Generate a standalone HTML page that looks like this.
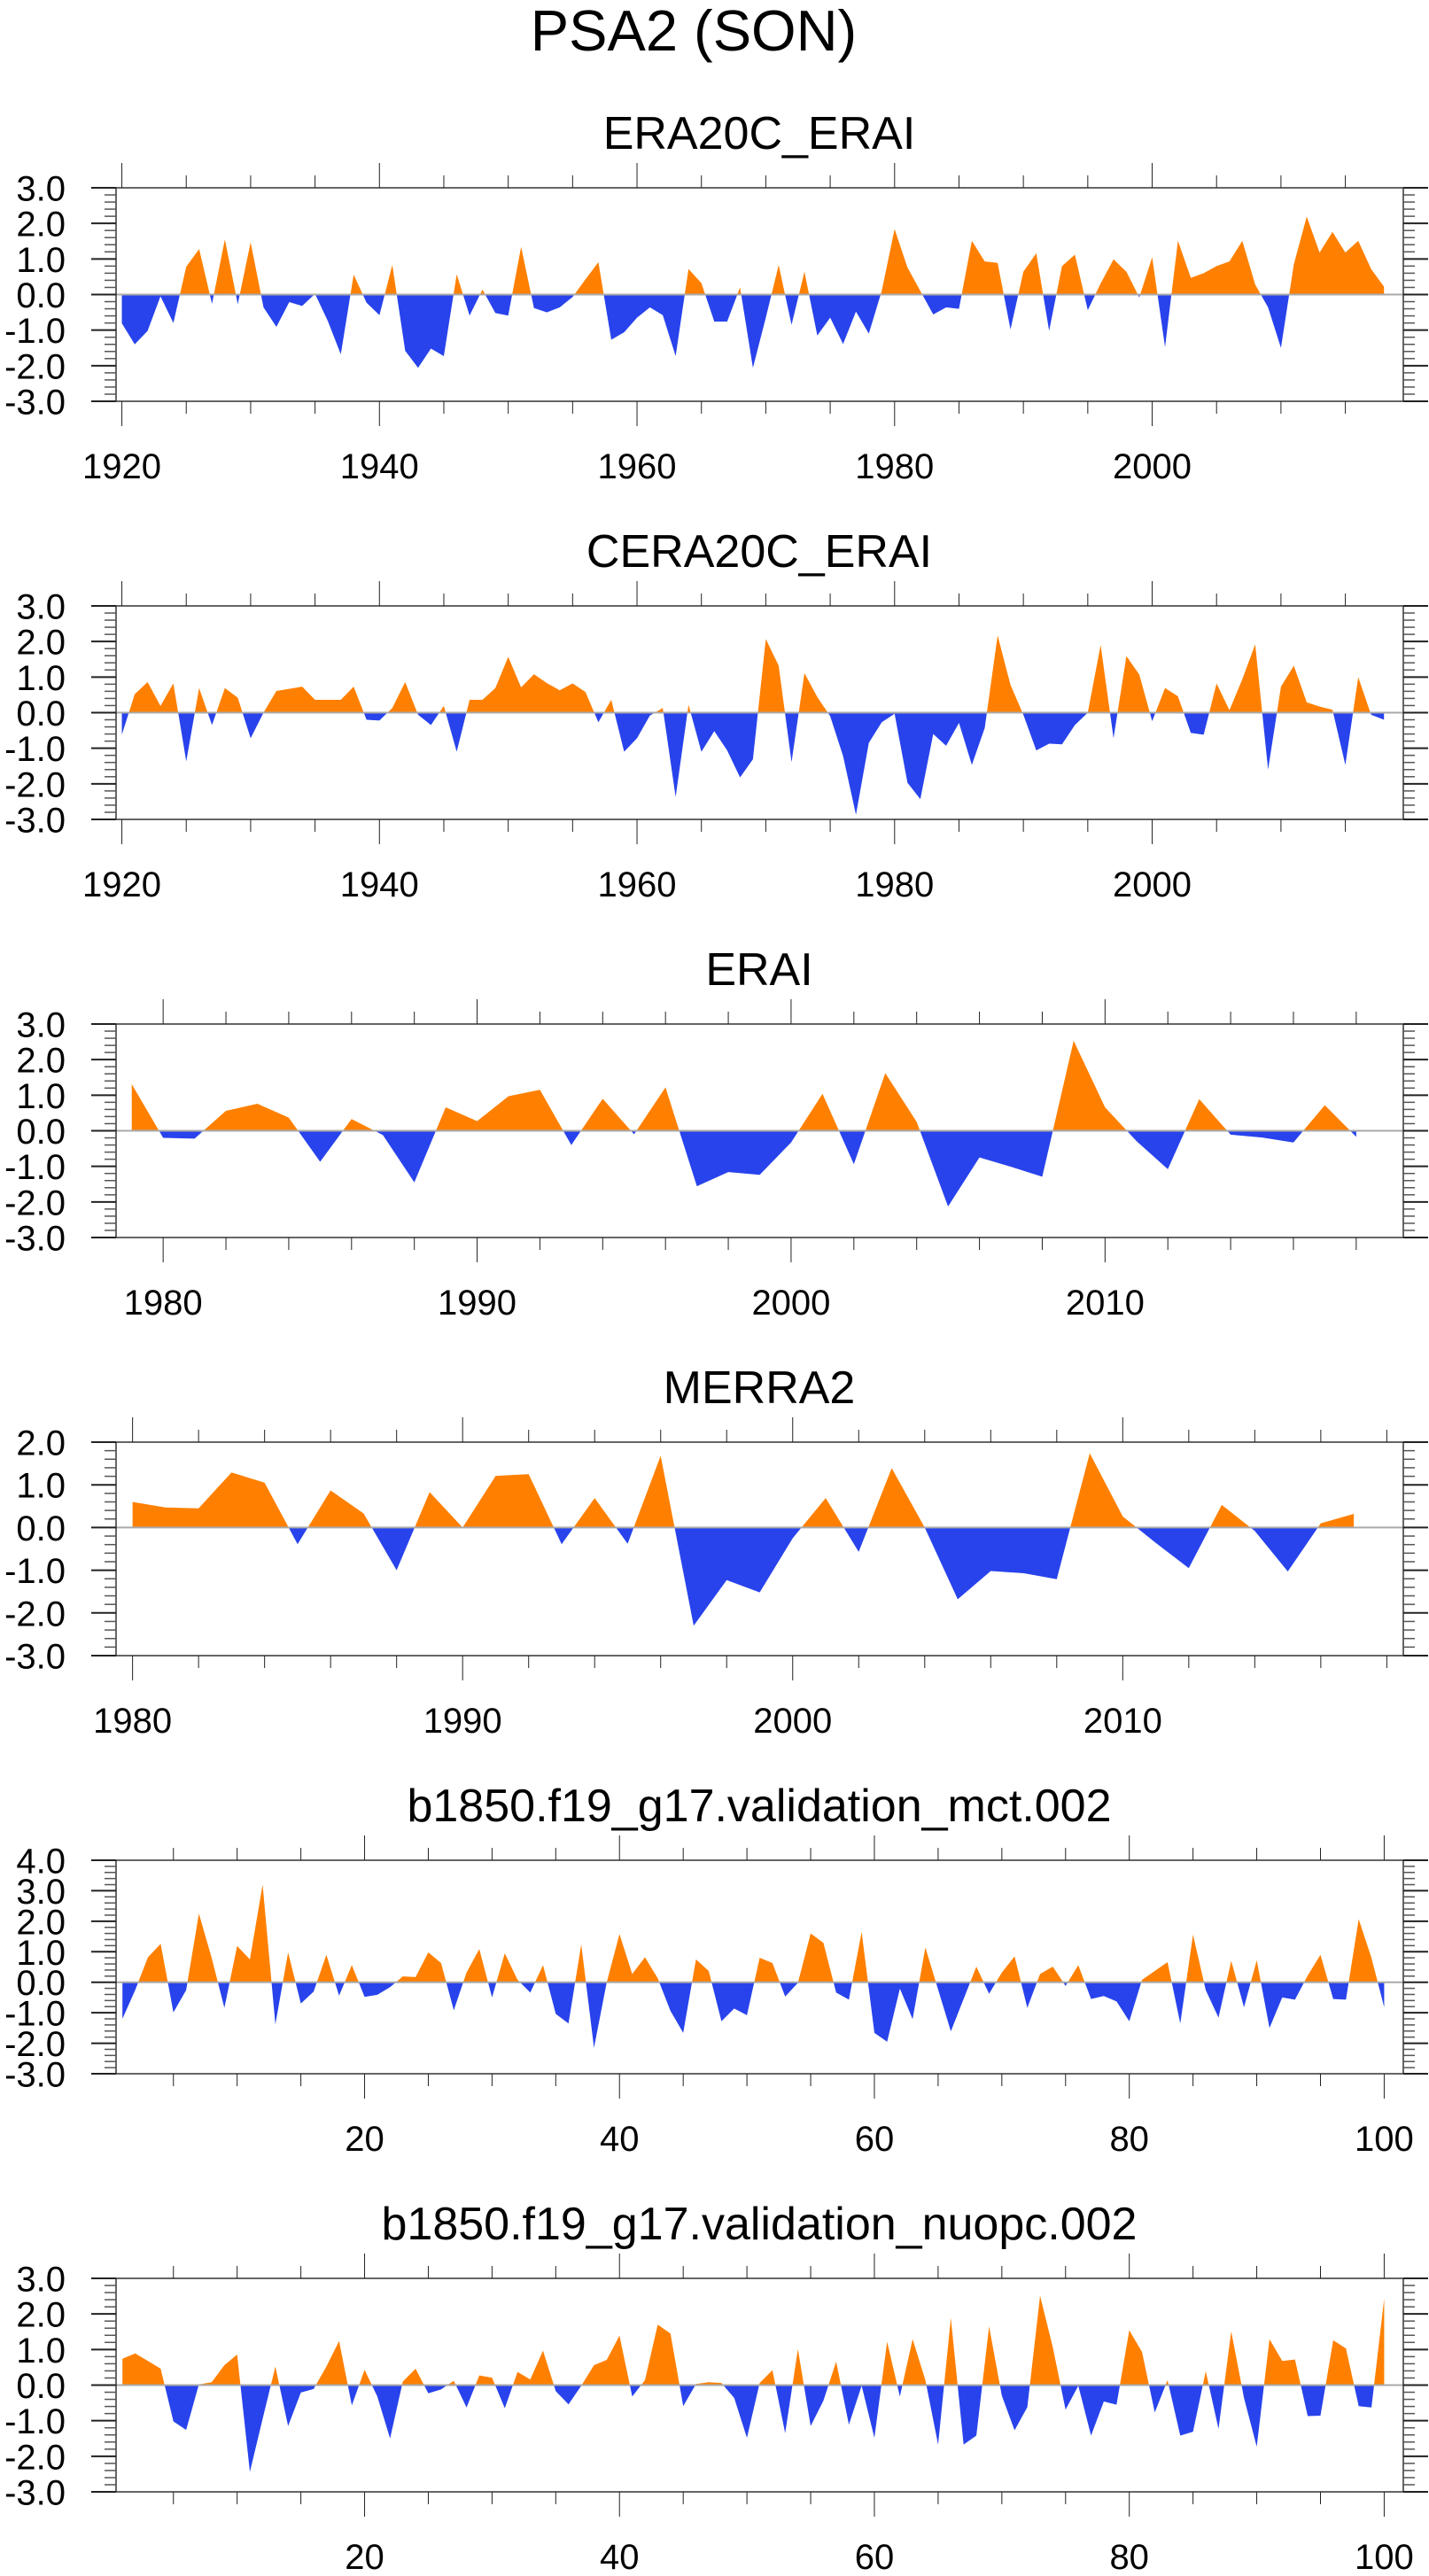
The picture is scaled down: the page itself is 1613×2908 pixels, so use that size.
<!DOCTYPE html>
<html><head><meta charset="utf-8">
<style>
html,body{margin:0;padding:0;background:#fff;}
svg{display:block;font-family:"Liberation Sans",Arial,sans-serif;}
</style></head>
<body>
<svg id="fig" width="1613" height="2908" viewBox="0 0 1613 2908" xmlns="http://www.w3.org/2000/svg">
<text x="783" y="57" font-size="65" text-anchor="middle" fill="#000">PSA2 (SON)</text>
</svg>
<script>
// ---- data ----
const era20cYears = [1920, 2018];
const era20cValues = [-0.81,-1.4,-1.02,-0.05,-0.8,0.78,1.28,-0.26,1.55,-0.27,1.47,-0.36,-0.91,-0.21,-0.32,0.02,-0.75,-1.68,0.56,-0.23,-0.58,0.83,-1.58,-2.06,-1.52,-1.73,0.57,-0.59,0.14,-0.52,-0.59,1.34,-0.38,-0.5,-0.36,-0.07,0.43,0.91,-1.27,-1.06,-0.65,-0.36,-0.58,-1.73,0.72,0.32,-0.76,-0.76,0.2,-2.06,-0.65,0.83,-0.85,0.64,-1.15,-0.65,-1.39,-0.48,-1.1,0.1,1.84,0.76,0.1,-0.56,-0.36,-0.4,1.51,0.93,0.89,-0.98,0.64,1.16,-1.02,0.8,1.12,-0.44,0.31,0.99,0.64,-0.08,1.05,-1.48,1.51,0.47,0.6,0.8,0.93,1.51,0.28,-0.36,-1.5,0.85,2.19,1.18,1.76,1.18,1.51,0.72,0.22];
const cera20cValues = [-0.62,0.52,0.86,0.19,0.82,-1.37,0.69,-0.35,0.69,0.42,-0.72,0.0,0.61,0.67,0.73,0.36,0.36,0.36,0.73,-0.2,-0.22,0.13,0.86,-0.06,-0.35,0.19,-1.1,0.36,0.36,0.69,1.57,0.71,1.08,0.83,0.63,0.82,0.58,-0.27,0.36,-1.1,-0.72,-0.08,0.13,-2.37,0.22,-1.1,-0.52,-1.06,-1.82,-1.31,2.07,1.32,-1.39,1.11,0.44,-0.1,-1.22,-2.87,-0.85,-0.27,-0.03,-1.97,-2.43,-0.6,-0.93,-0.29,-1.47,-0.43,2.17,0.78,-0.06,-1.06,-0.87,-0.89,-0.35,0.0,1.9,-0.72,1.59,1.07,-0.24,0.69,0.46,-0.57,-0.62,0.82,0.07,0.94,1.92,-1.6,0.73,1.32,0.29,0.17,0.08,-1.47,1.0,-0.06,-0.2];
const eraiStart = 1979;
const eraiValues = [1.31,-0.2,-0.22,0.56,0.76,0.37,-0.87,0.33,-0.12,-1.45,0.66,0.27,0.97,1.15,-0.4,0.9,-0.1,1.22,-1.56,-1.16,-1.24,-0.33,1.04,-0.94,1.62,0.25,-2.13,-0.75,-1.01,-1.29,2.53,0.66,-0.29,-1.08,0.89,-0.11,-0.19,-0.33,0.72,-0.17];
const merraStart = 1980;
const merraValues = [0.6,0.47,0.45,1.29,1.05,-0.39,0.87,0.33,-1.0,0.83,0.0,1.21,1.25,-0.39,0.69,-0.38,1.68,-2.3,-1.23,-1.52,-0.25,0.69,-0.57,1.39,0.0,-1.68,-1.02,-1.07,-1.21,1.74,0.26,-0.36,-0.95,0.53,-0.08,-1.03,0.1,0.32];
const mctValues = [-1.2,-0.26,0.82,1.26,-0.99,-0.26,2.25,0.8,-0.84,1.19,0.75,3.2,-1.38,0.98,-0.7,-0.31,0.9,-0.44,0.56,-0.48,-0.41,-0.16,0.19,0.17,0.98,0.63,-0.92,0.32,1.09,-0.5,0.95,0.08,-0.34,0.56,-1.04,-1.35,1.24,-2.15,0.0,1.58,0.27,0.82,0.13,-0.94,-1.66,0.75,0.37,-1.28,-0.86,-1.08,0.8,0.63,-0.47,-0.02,1.6,1.29,-0.34,-0.57,1.65,-1.66,-1.95,-0.21,-1.21,1.14,-0.24,-1.61,-0.55,0.51,-0.38,0.32,0.85,-0.84,0.27,0.51,-0.12,0.56,-0.55,-0.45,-0.63,-1.28,0.08,0.37,0.66,-1.35,1.56,-0.26,-1.16,0.7,-0.82,0.72,-1.5,-0.5,-0.57,0.22,0.9,-0.55,-0.57,2.07,0.8,-0.82];
const nuopcValues = [0.74,0.89,0.68,0.46,-1.02,-1.26,0.02,0.08,0.56,0.86,-2.44,-0.95,0.52,-1.15,-0.21,-0.11,0.52,1.24,-0.57,0.43,-0.32,-1.5,0.1,0.46,-0.23,-0.12,0.12,-0.63,0.27,0.21,-0.65,0.37,0.16,0.97,-0.17,-0.54,-0.02,0.56,0.71,1.39,-0.32,0.14,1.7,1.45,-0.59,0.03,0.08,0.06,-0.36,-1.48,0.06,0.42,-1.35,1.01,-1.15,-0.44,0.66,-1.11,-0.02,-1.48,1.22,-0.32,1.29,0.14,-1.67,1.89,-1.67,-1.42,1.65,-0.3,-1.27,-0.62,2.51,1.06,-0.69,-0.02,-1.42,-0.46,-0.55,1.54,0.93,-0.77,0.14,-1.42,-1.31,0.39,-1.23,1.51,-0.36,-1.73,1.29,0.68,0.72,-0.87,-0.86,1.26,1.03,-0.59,-0.63,2.43];
const panelTitles = ["ERA20C_ERAI","CERA20C_ERAI","ERAI","MERRA2","b1850.f19_g17.validation_mct.002","b1850.f19_g17.validation_nuopc.002"];
const xTickLabelsYears = [1920,1940,1960,1980,2000];
const xTickLabelsDecades = [1980,1990,2000,2010];
const xTickLabelsModel = [20,40,60,80,100];

const NS = "http://www.w3.org/2000/svg";
const svg = document.getElementById('fig');
function mk(tag, attrs, parent){
  const e = document.createElementNS(NS, tag);
  for (const k in attrs) e.setAttribute(k, attrs[k]);
  (parent||svg).appendChild(e);
  return e;
}
function seq(start, n, step){ const a=[]; for(let i=0;i<n;i++) a.push(start+i*step); return a; }

const L=131, R=1584, H=241;
const panels = [
 {xs: seq(era20cYears[0], era20cValues.length, 1), ys: era20cValues, x0:1919.55, x1:2019.5, y0:-3, y1:3, major: xTickLabelsYears, labels: xTickLabelsYears, minorStep:5, minorFrom:1920},
 {xs: seq(era20cYears[0], cera20cValues.length, 1), ys: cera20cValues, x0:1919.55, x1:2019.5, y0:-3, y1:3, major: xTickLabelsYears, labels: xTickLabelsYears, minorStep:5, minorFrom:1920},
 {xs: seq(eraiStart, eraiValues.length, 1), ys: eraiValues, x0:1978.5, x1:2019.5, y0:-3, y1:3, major: xTickLabelsDecades, labels: xTickLabelsDecades, minorStep:2, minorFrom:1980},
 {xs: seq(merraStart, merraValues.length, 1), ys: merraValues, x0:1979.5, x1:2018.5, y0:-3, y1:2, major: xTickLabelsDecades, labels: xTickLabelsDecades, minorStep:2, minorFrom:1980},
 {xs: seq(1, mctValues.length, 1), ys: mctValues, x0:0.5, x1:101.5, y0:-3, y1:4, major: xTickLabelsModel, labels: xTickLabelsModel, minorStep:5, minorFrom:0},
 {xs: seq(1, nuopcValues.length, 1), ys: nuopcValues, x0:0.5, x1:101.5, y0:-3, y1:3, major: xTickLabelsModel, labels: xTickLabelsModel, minorStep:5, minorFrom:0}
];

panels.forEach((p, i) => {
  const T = 212 + 472*i, B = T + H;
  const g = mk('g', {});
  
  
  const sx = v => L + (v - p.x0) / (p.x1 - p.x0) * (R - L);
  const sy = v => B - (v - p.y0) / (p.y1 - p.y0) * H;
  const zy = sy(0);

  const t = mk('text', {x:857, y:T-44, 'font-size':52, 'text-anchor':'middle', fill:'#000'}, g);
  
  
  t.textContent = panelTitles[i];

  // clip paths
  const defs = mk('defs', {}, g);
  const cA = mk('clipPath', {id:'ca'+i}, defs); mk('rect', {x:L, y:T, width:R-L, height:zy-T}, cA);
  const cB = mk('clipPath', {id:'cb'+i}, defs); mk('rect', {x:L, y:zy, width:R-L, height:B-zy}, cB);

  let d = 'M' + sx(p.xs[0]) + ',' + zy;
  p.xs.forEach((x, k) => { d += ' L' + sx(x).toFixed(2) + ',' + sy(p.ys[k]).toFixed(2); });
  d += ' L' + sx(p.xs[p.xs.length-1]) + ',' + zy + ' Z';
  const above = mk('path', {d:d, fill:'#ff8000', 'clip-path':'url(#ca'+i+')'}, g);
  
  
  const below = mk('path', {d:d, fill:'#2843ec', 'clip-path':'url(#cb'+i+')'}, g);
  
  

  const zl = mk('line', {x1:L, x2:R, y1:zy, y2:zy, stroke:'#aaa', 'stroke-width':2}, g);
  
  

  const fr = mk('rect', {x:L, y:T, width:R-L, height:H, fill:'none', stroke:'#333', 'stroke-width':1.5}, g);
  
  

  // x ticks
  for (let v = p.minorFrom; v <= p.x1; v += p.minorStep) {
    if (v < p.x0) continue;
    const x = sx(v);
    const isMajor = p.major.indexOf(v) >= 0 || (i>=4 && v % 20 === 0);
    const len = isMajor ? 28 : 14;
    mk('line', {x1:x, x2:x, y1:T, y2:T-len, stroke:'#222', 'stroke-width':1}, g);
    mk('line', {x1:x, x2:x, y1:B, y2:B+len, stroke:'#222', 'stroke-width':1}, g);
  }
  p.labels.forEach(v => {
    const lb = mk('text', {x:sx(v), y:B+87, 'font-size':40, 'text-anchor':'middle', fill:'#000'}, g);
    
    
    lb.textContent = String(v);
  });
  // y ticks
  for (let k = 0; k <= (p.y1 - p.y0) * 5; k++) {
    const v = p.y0 + k * 0.2;
    const y = sy(v);
    const isMajor = k % 5 === 0;
    const len = isMajor ? 28 : 13;
    mk('line', {x1:L, x2:L-len, y1:y, y2:y, stroke:isMajor?'#222':'#555', 'stroke-width':isMajor?2:1.5}, g);
    mk('line', {x1:R, x2:R+len, y1:y, y2:y, stroke:isMajor?'#222':'#555', 'stroke-width':isMajor?2:1.5}, g);
    if (isMajor) {
      const lb = mk('text', {x:74, y:y+14.5, 'font-size':40, 'text-anchor':'end', fill:'#000'}, g);
      
      
      lb.textContent = v.toFixed(1);
    }
  }
});
</script>
</body></html>
